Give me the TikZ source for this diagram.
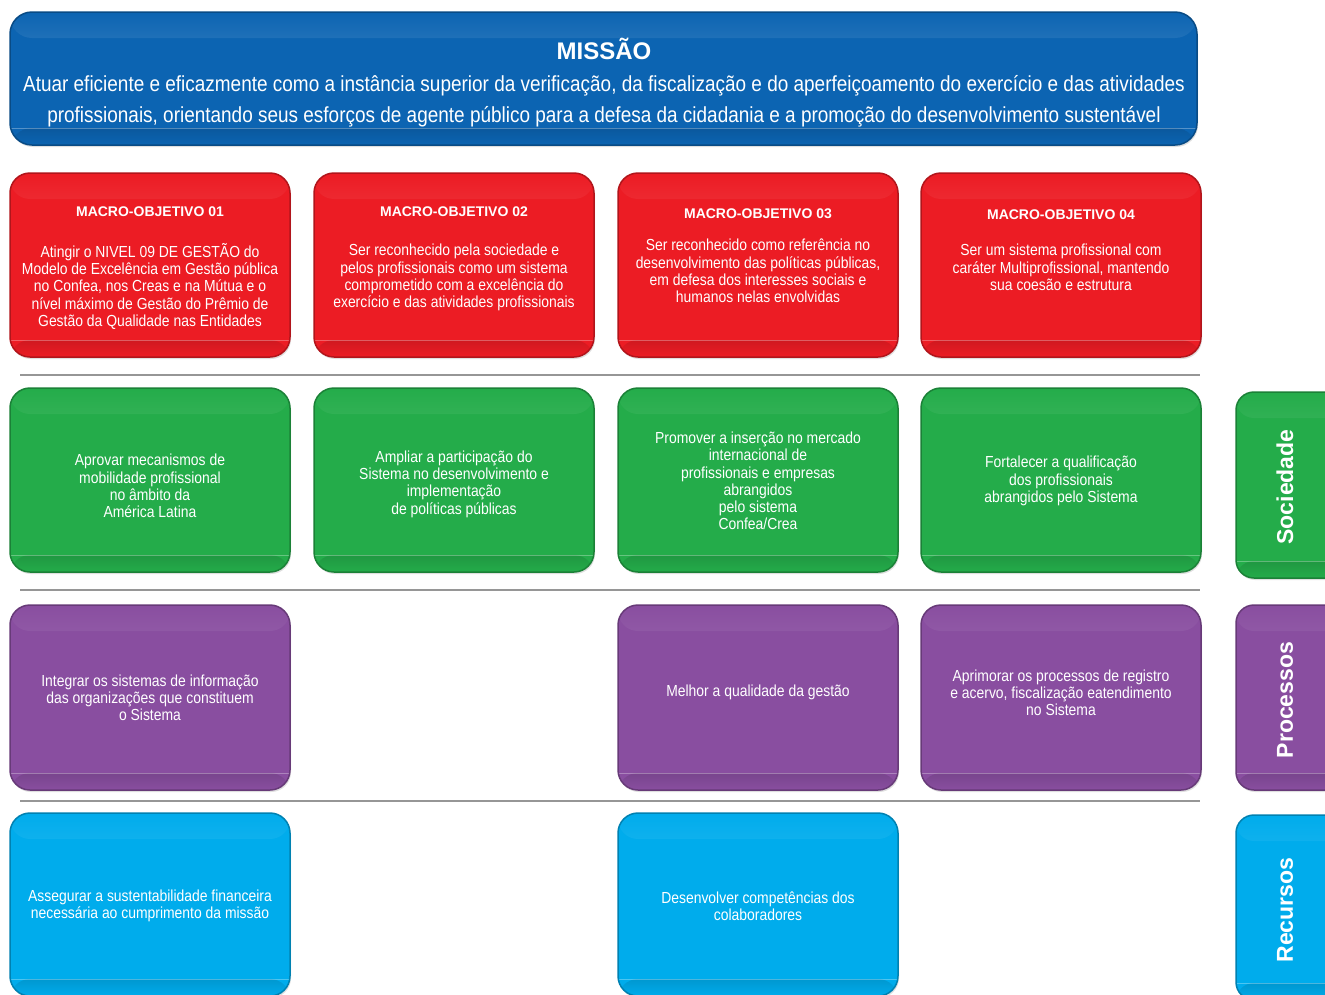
\documentclass[tikz,border=0pt]{standalone}
\usepackage{fontspec}
\setmainfont{Liberation Sans}
\newfontfamily\nar[FakeStretch=0.87]{Liberation Sans}
\usetikzlibrary{shadows}
\definecolor{mblue}{RGB}{12,100,178}
\definecolor{mred}{RGB}{236,28,36}
\definecolor{mgreen}{RGB}{36,172,74}
\definecolor{mpurple}{RGB}{137,78,160}
\definecolor{mcyan}{RGB}{0,172,236}
\definecolor{sepgray}{RGB}{150,150,150}
\tikzset{
  box/.style={draw=#1!75!black, line width=1.5pt, fill=#1, rounded corners=20pt,
    minimum width=280pt, minimum height=184pt, inner sep=0pt,
    drop shadow={opacity=0.25, shadow xshift=1pt, shadow yshift=-2pt},
    path picture={
      \shade[top color=#1, bottom color=#1!60!white]
        (path picture bounding box.north west) rectangle ([yshift=-26pt]path picture bounding box.north east);
      \shade[top color=#1!88!black, bottom color=#1]
        ([yshift=17pt]path picture bounding box.south west) rectangle (path picture bounding box.south east);
      \draw[white, opacity=0.3, line width=1pt]
        ([yshift=17pt]path picture bounding box.south west) -- ([yshift=17pt]path picture bounding box.south east);
    }},
  txt/.style={text=white, align=center, inner sep=0pt},
  mtitle/.style={txt, font=\bfseries\fontsize{14}{16}\selectfont, anchor=north},
  mbody/.style={txt, font=\nar\fontsize{16}{17.25}\selectfont, anchor=north},
  cbody/.style={txt, font=\nar\fontsize{16}{17.25}\selectfont, anchor=center},
  tabtxt/.style={txt, font=\bfseries\fontsize{23}{26}\selectfont, rotate=90},
  sep/.style={draw=sepgray, line width=2.5pt}
}
\begin{document}
\begin{tikzpicture}[x=1pt,y=-1pt]
\useasboundingbox (0,0) rectangle (1325,994);
\clip (0,0) rectangle (1325,994);
\fill[white] (0,0) rectangle (1325,994);

% Mission
\node[box=mblue, minimum width=1187pt, minimum height=133pt, rounded corners=22pt] (mission) at (603.5,78.5) {};
\node[txt, font=\bfseries\fontsize{24}{28}\selectfont] (missiontitle) at (604,49) {MISSÃO};
\node[txt, font=\nar\fontsize{21.8}{31}\selectfont] (missiontext) at (604,101) {Atuar eficiente e eficazmente como a instância superior da verificação, da fiscalização e do aperfeiçoamento do exercício e das atividades\\profissionais, orientando seus esforços de agente público para a defesa da cidadania e a promoção do desenvolvimento sustentável};

% Macro objectives
\node[box=mred] (mo1) at (150,265) {};
\node[box=mred] (mo2) at (454,265) {};
\node[box=mred] (mo3) at (758,265) {};
\node[box=mred] (mo4) at (1061,265) {};
\node[mtitle] (mo1t) at (150,207) {MACRO-OBJETIVO 01};
\node[mtitle] (mo2t) at (454,207) {MACRO-OBJETIVO 02};
\node[mtitle] (mo3t) at (758,209) {MACRO-OBJETIVO 03};
\node[mtitle] (mo4t) at (1061,210) {MACRO-OBJETIVO 04};
\node[mbody] (mo1b) at (150,243) {Atingir o NIVEL 09 DE GESTÃO do\\Modelo de Excelência em Gestão pública\\no Confea, nos Creas e na Mútua e o\\nível máximo de Gestão do Prêmio de\\Gestão da Qualidade nas Entidades};
\node[mbody] (mo2b) at (454,244) {Ser reconhecido pela sociedade e\\pelos profissionais como um sistema\\comprometido com a excelência do\\exercício e das atividades profissionais};
\node[mbody] (mo3b) at (758,239) {Ser reconhecido como referência no\\desenvolvimento das políticas públicas,\\em defesa dos interesses sociais e\\humanos nelas envolvidas};
\node[mbody] (mo4b) at (1061,244) {Ser um sistema profissional com\\caráter Multiprofissional, mantendo\\sua coesão e estrutura};

\coordinate (s1l) at (20,375); \coordinate (s1r) at (1200,375);
\draw[sep] (s1l) -- (s1r);

% Sociedade row
\node[box=mgreen] (g1) at (150,480) {};
\node[box=mgreen] (g2) at (454,480) {};
\node[box=mgreen] (g3) at (758,480) {};
\node[box=mgreen] (g4) at (1061,480) {};
\node[cbody] (g1t) at (150,486) {Aprovar mecanismos de\\mobilidade profissional\\no âmbito da\\América Latina};
\node[cbody] (g2t) at (454,484) {Ampliar a participação do\\Sistema no desenvolvimento e\\implementação\\de políticas públicas};
\node[cbody] (g3t) at (758,481) {Promover a inserção no mercado\\internacional de\\profissionais e empresas\\abrangidos\\pelo sistema\\Confea/Crea};
\node[cbody] (g4t) at (1061,481) {Fortalecer a qualificação\\dos profissionais\\abrangidos pelo Sistema};

\coordinate (s2l) at (20,590); \coordinate (s2r) at (1200,590);
\draw[sep] (s2l) -- (s2r);

% Processos row
\node[box=mpurple, minimum height=185pt] (p1) at (150,697.5) {};
\node[box=mpurple, minimum height=185pt] (p3) at (758,697.5) {};
\node[box=mpurple, minimum height=185pt] (p4) at (1061,697.5) {};
\node[cbody] (p1t) at (150,698) {Integrar os sistemas de informação\\das organizações que constituem\\o Sistema};
\node[cbody] (p3t) at (758,692) {Melhor a qualidade da gestão};
\node[cbody] (p4t) at (1061,693) {Aprimorar os processos de registro\\e acervo, fiscalização eatendimento\\no Sistema};

\coordinate (s3l) at (20,801); \coordinate (s3r) at (1200,801);
\draw[sep] (s3l) -- (s3r);

% Recursos row
\node[box=mcyan, minimum height=183pt] (c1) at (150,904.5) {};
\node[box=mcyan, minimum height=183pt] (c3) at (758,904.5) {};
\node[cbody] (c1t) at (150,906) {Assegurar a sustentabilidade financeira\\necessária ao cumprimento da missão};
\node[cbody] (c3t) at (758,906) {Desenvolver competências dos\\colaboradores};

% Side tabs
\node[box=mgreen, minimum width=110pt, minimum height=186pt, rounded corners=18pt] (tabS) at (1291,485) {};
\node[box=mpurple, minimum width=110pt, minimum height=185pt, rounded corners=18pt] (tabP) at (1291,697.5) {};
\node[box=mcyan, minimum width=110pt, minimum height=185pt, rounded corners=18pt] (tabR) at (1291,907.5) {};
\node[tabtxt] (tabSt) at (1285,487) {Sociedade};
\node[tabtxt] (tabPt) at (1285,700) {Processos};
\node[tabtxt] (tabRt) at (1285,910) {Recursos};
\end{tikzpicture}
\end{document}
